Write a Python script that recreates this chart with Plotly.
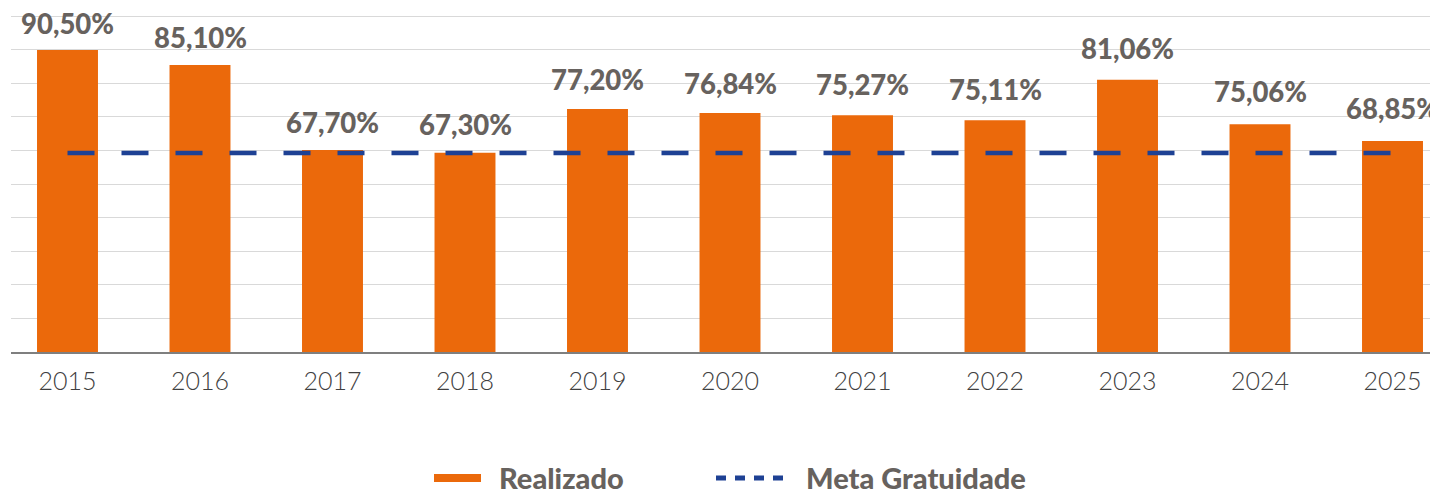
import plotly.graph_objects as go

years = ["2015", "2016", "2017", "2018", "2019", "2020", "2021", "2022", "2023", "2024", "2025"]
bar_values = [89.9, 85.4, 60.1, 59.3, 72.3, 71.1, 70.5, 69.0, 81.0, 67.8, 62.8]
bar_labels = ["90,50%", "85,10%", "67,70%", "67,30%", "77,20%", "76,84%", "75,27%", "75,11%", "81,06%", "75,06%", "68,85%"]
meta_values = [59.2] * 11
series_names = ["Realizado", "Meta Gratuidade"]

ORANGE = "#EB690B"
BLUE = "#1E4194"
LABEL = "#67625E"

W, H = 1430, 496
YMAX = 100.3
L, R, B = 11, 0, 144
PH = 336 * YMAX / 100.0
T = H - B - PH
PW = W - L - R


def px_x(px):
    return (px - L) / PW


def px_y(py):
    return (H - B - py) / PH


fig = go.Figure()
fig.add_trace(go.Bar(
    x=years, y=bar_values, name=series_names[0],
    marker=dict(color=ORANGE, line=dict(width=0)),
    width=0.46, hoverinfo="skip", showlegend=False,
))
fig.add_trace(go.Scatter(
    x=years, y=meta_values, name=series_names[1], mode="lines",
    line=dict(color=BLUE, width=4.5, dash="27px,27px"),
    hoverinfo="skip", showlegend=False,
))

annotations = []
for i, (v, lab) in enumerate(zip(bar_values, bar_labels)):
    annotations.append(dict(
        x=i, y=v, xref="x", yref="y", text=lab, showarrow=False,
        yanchor="middle", xanchor="center", yshift=26.5 + 0.65 * i,
        font=dict(family="Lato", size=27.5, color=LABEL, weight=900),
    ))

LEG_Y = 478
shapes = [
    dict(type="rect", xref="paper", yref="paper",
         x0=px_x(434), x1=px_x(481), y0=px_y(LEG_Y - 4), y1=px_y(LEG_Y + 4),
         fillcolor=ORANGE, line=dict(width=0)),
    dict(type="line", xref="paper", yref="paper",
         x0=px_x(716), x1=px_x(789), y0=px_y(LEG_Y), y1=px_y(LEG_Y),
         line=dict(color=BLUE, width=5, dash="10px,9px")),
]
annotations.append(dict(
    x=px_x(497), y=px_y(LEG_Y), xref="paper", yref="paper", text=series_names[0],
    showarrow=False, xanchor="left", yanchor="middle",
    font=dict(family="Lato", size=29, color=LABEL, weight=900),
))
annotations.append(dict(
    x=px_x(804), y=px_y(LEG_Y), xref="paper", yref="paper", text=series_names[1],
    showarrow=False, xanchor="left", yanchor="middle",
    font=dict(family="Lato", size=29, color=LABEL, weight=900),
))

fig.update_layout(
    width=W, height=H, autosize=False,
    margin=dict(l=L, r=R, t=T, b=B, pad=0),
    paper_bgcolor="white", plot_bgcolor="white",
    showlegend=False,
    annotations=annotations, shapes=shapes,
    xaxis=dict(
        type="category", range=[-0.4264, 10.283],
        showgrid=False, zeroline=False,
        showline=True, linecolor="#7F7F7F", linewidth=2,
        ticks="", ticklabelstandoff=6,
        tickfont=dict(family="Lato", size=25, color="#404040", weight=300),
    ),
    yaxis=dict(
        range=[0, YMAX], tick0=0, dtick=10, showticklabels=False,
        showgrid=True, gridcolor="#D9D9D9", gridwidth=1,
        zeroline=False, showline=False, ticks="",
    ),
)

fig.write_html("out.html", config={"displayModeBar": False},
               post_script="document.body.style.margin='0';")
